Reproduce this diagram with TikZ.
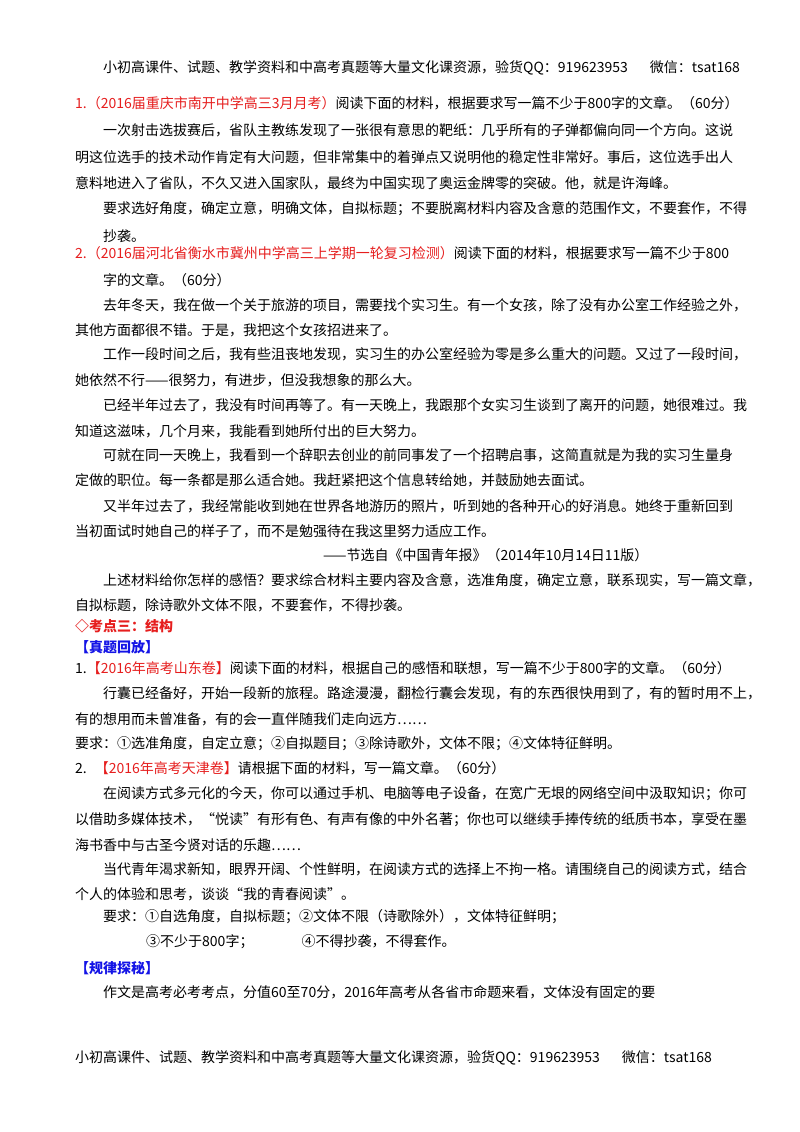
\documentclass[tikz,border=0pt]{standalone}
\usepackage{fontspec}
\setmainfont{Noto Sans CJK SC}
\definecolor{tred}{RGB}{230,30,30}
\definecolor{tblue}{RGB}{20,20,230}
\tikzset{ln/.style={anchor=west,inner sep=0pt,font=\fontsize{14}{16}\selectfont}}
\newcommand{\rd}[1]{\textcolor{tred}{#1}}
\newcommand{\bl}[1]{\textcolor{tblue}{\bfseries #1}}
\begin{document}
\begin{tikzpicture}[x=1pt,y=-1pt]
\useasboundingbox (0,0) rectangle (800,1132);
\fill[white] (0,0) rectangle (800,1132);
\node[ln] (h) at (103,68) {小初高课件、试题、教学资料和中高考真题等大量文化课资源，验货QQ：919623953\hspace{22pt}微信：tsat168};
\node[ln] (a1) at (75,103) {\rd{1.（2016届重庆市南开中学高三3月月考）}阅读下面的材料，根据要求写一篇不少于800字的文章。（60分）};
\node[ln] (a2) at (103,130) {一次射击选拔赛后，省队主教练发现了一张很有意思的靶纸：几乎所有的子弹都偏向同一个方向。这说};
\node[ln] (a3) at (75,157) {明这位选手的技术动作肯定有大问题，但非常集中的着弹点又说明他的稳定性非常好。事后，这位选手出人};
\node[ln] (a4) at (75,183) {意料地进入了省队，不久又进入国家队，最终为中国实现了奥运金牌零的突破。他，就是许海峰。};
\node[ln] (a5) at (103,209) {要求选好角度，确定立意，明确文体，自拟标题；不要脱离材料内容及含意的范围作文，不要套作，不得};
\node[ln] (a6) at (103,236) {抄袭。};
\node[ln] (b1) at (75,253) {\rd{2.（2016届河北省衡水市冀州中学高三上学期一轮复习检测）}阅读下面的材料，根据要求写一篇不少于800};
\node[ln] (b2) at (103,280) {字的文章。（60分）};
\node[ln] (b3) at (103,305) {去年冬天，我在做一个关于旅游的项目，需要找个实习生。有一个女孩，除了没有办公室工作经验之外，};
\node[ln] (b4) at (75,330) {其他方面都很不错。于是，我把这个女孩招进来了。};
\node[ln] (b5) at (103,354) {工作一段时间之后，我有些沮丧地发现，实习生的办公室经验为零是多么重大的问题。又过了一段时间，};
\node[ln] (b6) at (75,380) {她依然不行——很努力，有进步，但没我想象的那么大。};
\node[ln] (b7) at (103,405) {已经半年过去了，我没有时间再等了。有一天晚上，我跟那个女实习生谈到了离开的问题，她很难过。我};
\node[ln] (b8) at (75,431) {知道这滋味，几个月来，我能看到她所付出的巨大努力。};
\node[ln] (b9) at (103,455) {可就在同一天晚上，我看到一个辞职去创业的前同事发了一个招聘启事，这简直就是为我的实习生量身};
\node[ln] (b10) at (75,480) {定做的职位。每一条都是那么适合她。我赶紧把这个信息转给她，并鼓励她去面试。};
\node[ln] (b11) at (103,506) {又半年过去了，我经常能收到她在世界各地游历的照片，听到她的各种开心的好消息。她终于重新回到};
\node[ln] (b12) at (75,531) {当初面试时她自己的样子了，而不是勉强待在我这里努力适应工作。};
\node[ln] (b13) at (323,555) {——节选自《中国青年报》（2014年10月14日11版）};
\node[ln] (b14) at (103,580) {上述材料给你怎样的感悟？要求综合材料主要内容及含意，选准角度，确定立意，联系现实，写一篇文章，};
\node[ln] (b15) at (75,605) {自拟标题，除诗歌外文体不限，不要套作，不得抄袭。};
\node[ln] (k) at (75,626) {\textcolor{tred}{\bfseries ◇考点三：结构}};
\node[ln] (z) at (75,647) {\bl{【真题回放】}};
\node[ln] (c1) at (75,668) {1.\rd{【2016年高考山东卷】}阅读下面的材料，根据自己的感悟和联想，写一篇不少于800字的文章。（60分）};
\node[ln] (c2) at (103,693) {行囊已经备好，开始一段新的旅程。路途漫漫，翻检行囊会发现，有的东西很快用到了，有的暂时用不上，};
\node[ln] (c3) at (75,719) {有的想用而未曾准备，有的会一直伴随我们走向远方……};
\node[ln] (c4) at (75,744) {要求：①选准角度，自定立意；②自拟题目；③除诗歌外，文体不限；④文体特征鲜明。};
\node[ln] (d1) at (75,768) {2.\hspace{8pt}\rd{【2016年高考天津卷】}请根据下面的材料，写一篇文章。（60分）};
\node[ln] (d2) at (103,794) {在阅读方式多元化的今天，你可以通过手机、电脑等电子设备，在宽广无垠的网络空间中汲取知识；你可};
\node[ln] (d3) at (75,820) {以借助多媒体技术，“悦读”有形有色、有声有像的中外名著；你也可以继续手捧传统的纸质书本，享受在墨};
\node[ln] (d4) at (75,845) {海书香中与古圣今贤对话的乐趣……};
\node[ln] (d5) at (103,869) {当代青年渴求新知，眼界开阔、个性鲜明，在阅读方式的选择上不拘一格。请围绕自己的阅读方式，结合};
\node[ln] (d6) at (75,894) {个人的体验和思考，谈谈“我的青春阅读”。};
\node[ln] (d7) at (103,917) {要求：①自选角度，自拟标题；②文体不限（诗歌除外），文体特征鲜明；};
\node[ln] (d8) at (146,942) {③不少于800字；\hspace{48pt}④不得抄袭，不得套作。};
\node[ln] (g) at (75,968) {\bl{【规律探秘】}};
\node[ln] (e1) at (103,992) {作文是高考必考考点，分值60至70分，2016年高考从各省市命题来看，文体没有固定的要};
\node[ln] (f) at (75,1058) {小初高课件、试题、教学资料和中高考真题等大量文化课资源，验货QQ：919623953\hspace{22pt}微信：tsat168};
\end{tikzpicture}
\end{document}
